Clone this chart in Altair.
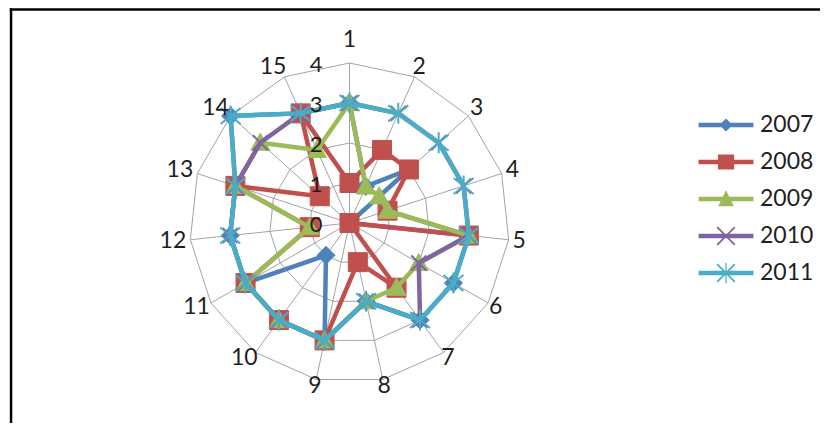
import altair as alt
import pandas as pd

# ---------------- data ----------------
CATEGORIES = ["1", "2", "3", "4", "5", "6", "7", "8", "9", "10", "11", "12", "13", "14", "15"]
YEARS = ["2007", "2008", "2009", "2010", "2011"]
V2007 = [3, 1, 2, 0, 3, 3, 3, 2, 3, 1, 3, 3, 3, 4, 3]
V2008 = [1, 2, 2, 1, 3, 0, 2, 1, 3, 3, 3, 1, 3, 1, 3]
V2009 = [3, 1, 1, 1, 3, 2, 2, 2, 3, 3, 3, 1, 3, 3, 2]
V2010 = [3, 3, 3, 3, 3, 2, 3, 2, 3, 3, 3, 3, 3, 3, 3]
V2011 = [3, 3, 3, 3, 3, 3, 3, 2, 3, 3, 3, 3, 3, 4, 3]
RING_VALUES = [1, 2, 3, 4]
TICK_LABELS = ["0", "1", "2", "3", "4"]

SERIES = dict(zip(YEARS, [V2007, V2008, V2009, V2010, V2011]))

# ---------------- styles ----------------
COLORS = ["#4F81BD", "#C0504D", "#9BBB59", "#8064A2", "#4BACC6"]
FONT = "Lato"
TEXT_COLOR = "#1f1f1f"
GRID_COLOR = "#a3a3a3"

MARKERS = {
    "2007": dict(shape="M0,-1L1,0L0,1L-1,0Z", size=324, filled=True, strokeWidth=1),
    "2008": dict(shape="square", size=361, filled=True, strokeWidth=1),
    "2009": dict(shape="M0,-1L1,0.8L-1,0.8Z", size=361, filled=True, strokeWidth=1),
    "2010": dict(shape="M-1,-1L1,1M-1,1L1,-1", size=225, filled=False, strokeWidth=2),
    "2011": dict(shape="M-1,-0.8L1,0.8M-1,0.8L1,-0.8M0,-1.05L0,1.05", size=400, filled=False, strokeWidth=2),
}
LINE = "M-1.12,-0.092H1.12V0.092H-1.12Z"
XARM1 = "M-0.335,-0.385L0.385,0.335L0.335,0.385L-0.385,-0.335Z"
XARM2 = "M-0.335,0.385L-0.385,0.335L0.335,-0.385L0.385,-0.335Z"
VARM = "M-0.025,-0.42H0.025V0.42H-0.025Z"
LEGEND_PATHS = [
    LINE + "M0,-0.27L0.27,0L0,0.27L-0.27,0Z",
    LINE + "M-0.33,-0.31H0.33V0.31H-0.33Z",
    LINE + "M0,-0.36L0.32,0.3H-0.32Z",
    LINE + XARM1 + XARM2,
    LINE + XARM1 + XARM2 + VARM,
]

# ---------------- geometry of the view ----------------
W, H = 812, 415
CX, CY, UNIT = 341.5, 215.0, 40.0
XDOM = [-CX / UNIT, (W - CX) / UNIT]
YDOM = [-(H - CY) / UNIT, CY / UNIT]
N = len(CATEGORIES)

xs = alt.Scale(domain=XDOM, nice=False, zero=False)
ys = alt.Scale(domain=YDOM, nice=False, zero=False)

# ---------------- tables ----------------
rows = []
for yr, vals in SERIES.items():
    for i in range(N + 1):
        rows.append({"year": yr, "idx": i, "cat": CATEGORIES[i % N], "value": vals[i % N]})
series_df = pd.DataFrame(rows)

ring_rows = []
for r in RING_VALUES:
    for i in range(N + 1):
        ring_rows.append({"ring": r, "idx": i, "value": r})
ring_df = pd.DataFrame(ring_rows)

cat_df = pd.DataFrame({"cat": CATEGORIES, "idx": list(range(N)), "value": [max(RING_VALUES)] * N})
tick_df = pd.DataFrame({"label": TICK_LABELS, "value": [float(t) for t in TICK_LABELS]})

ANG = f"datum.idx * 2 * PI / {N}"


def polar(chart):
    return chart.transform_calculate(
        a=ANG
    ).transform_calculate(
        px="datum.value * sin(datum.a)", py="datum.value * cos(datum.a)"
    )


X = alt.X("px:Q", scale=xs, axis=None)
Y = alt.Y("py:Q", scale=ys, axis=None)

# frame (only the top and left edges are visible in the reference)
frame_src = alt.Chart(pd.DataFrame({"k": [0]}))
frame_top = frame_src.mark_rect(color="black").encode(
    x=alt.value(1.8), x2=alt.value(W), y=alt.value(0.3), y2=alt.value(2.8)
)
frame_left = frame_src.mark_rect(color="black").encode(
    x=alt.value(1.8), x2=alt.value(4.3), y=alt.value(0.3), y2=alt.value(H)
)

rings = polar(alt.Chart(ring_df)).mark_line(color=GRID_COLOR, strokeWidth=1).encode(
    x=X, y=Y, detail="ring:N", order="idx:Q"
)

spokes = alt.Chart(cat_df).transform_calculate(
    a=ANG
).transform_calculate(
    px="0", py="0", px2="datum.value * sin(datum.a)", py2="datum.value * cos(datum.a)"
).mark_rule(color=GRID_COLOR, strokeWidth=1).encode(
    x=X, y=Y, x2="px2:Q", y2="py2:Q"
)

layers = [frame_top, frame_left, rings, spokes]

for yr, col in zip(YEARS, COLORS):
    base = polar(alt.Chart(series_df)).transform_filter(alt.datum.year == yr)
    line = base.mark_line(color=col, strokeWidth=4.5, strokeJoin="round", strokeCap="round").encode(
        x=X, y=Y, order="idx:Q"
    )
    m = MARKERS[yr]
    if m["filled"]:
        pts = base.transform_filter(alt.datum.idx < N).mark_point(
            shape=m["shape"], size=m["size"], filled=True, color=col, opacity=1,
            stroke=col, strokeWidth=m["strokeWidth"]
        ).encode(x=X, y=Y)
    else:
        pts = base.transform_filter(alt.datum.idx < N).mark_point(
            shape=m["shape"], size=m["size"], filled=False, color=col, opacity=1,
            strokeWidth=m["strokeWidth"]
        ).encode(x=X, y=Y)
    layers += [line, pts]

tick_labels = alt.Chart(tick_df).transform_calculate(px="0", py="datum.value").mark_text(
    align="right", baseline="middle", dx=-27, dy=2, font=FONT, fontSize=22, color=TEXT_COLOR
).encode(x=X, y=Y, text="label:N")

cat_labels = alt.Chart(cat_df).transform_calculate(
    a=ANG
).transform_calculate(
    lr="4.28 + (datum.idx == 0 ? 0.29 : 0) + min(0, cos(datum.a)) * 0.12",
    sg="sin(datum.a) > 0.01 ? 1 : (sin(datum.a) < -0.01 ? -1 : 0)",
).transform_calculate(
    px="datum.lr * sin(datum.a) + (length(datum.cat) > 1 ? 0.17 : 0) * datum.sg",
    py="datum.lr * cos(datum.a)",
).mark_text(
    align="center", baseline="middle", font=FONT, fontSize=23, color=TEXT_COLOR
).encode(x=X, y=Y, text="cat:N")

leg = alt.Legend(
    title=None,
    orient="none",
    legendX=693.5,
    legendY=92.5,
    direction="vertical",
    padding=0,
    rowPadding=0,
    symbolSize=2401,
    symbolOpacity=1,
    symbolStrokeWidth=0,
    labelOffset=9.5,
    labelFont=FONT,
    labelFontSize=23,
    labelColor=TEXT_COLOR,
    labelLimit=200,
)

legend_layer = polar(alt.Chart(series_df)).transform_filter(alt.datum.idx == 0).mark_point(
    filled=True, opacity=0
).encode(
    x=X,
    y=Y,
    color=alt.Color("year:N", scale=alt.Scale(domain=YEARS, range=COLORS), legend=leg),
    shape=alt.Shape("year:N", scale=alt.Scale(domain=YEARS, range=LEGEND_PATHS), legend=leg),
)

layers += [tick_labels, cat_labels, legend_layer]

chart = alt.layer(*layers).properties(
    width=W,
    height=H,
    padding=0,
    autosize=alt.AutoSizeParams(type="none"),
    background="white",
).configure_view(stroke=None)

chart.save("out.html", embed_options={"renderer": "svg", "actions": False})
